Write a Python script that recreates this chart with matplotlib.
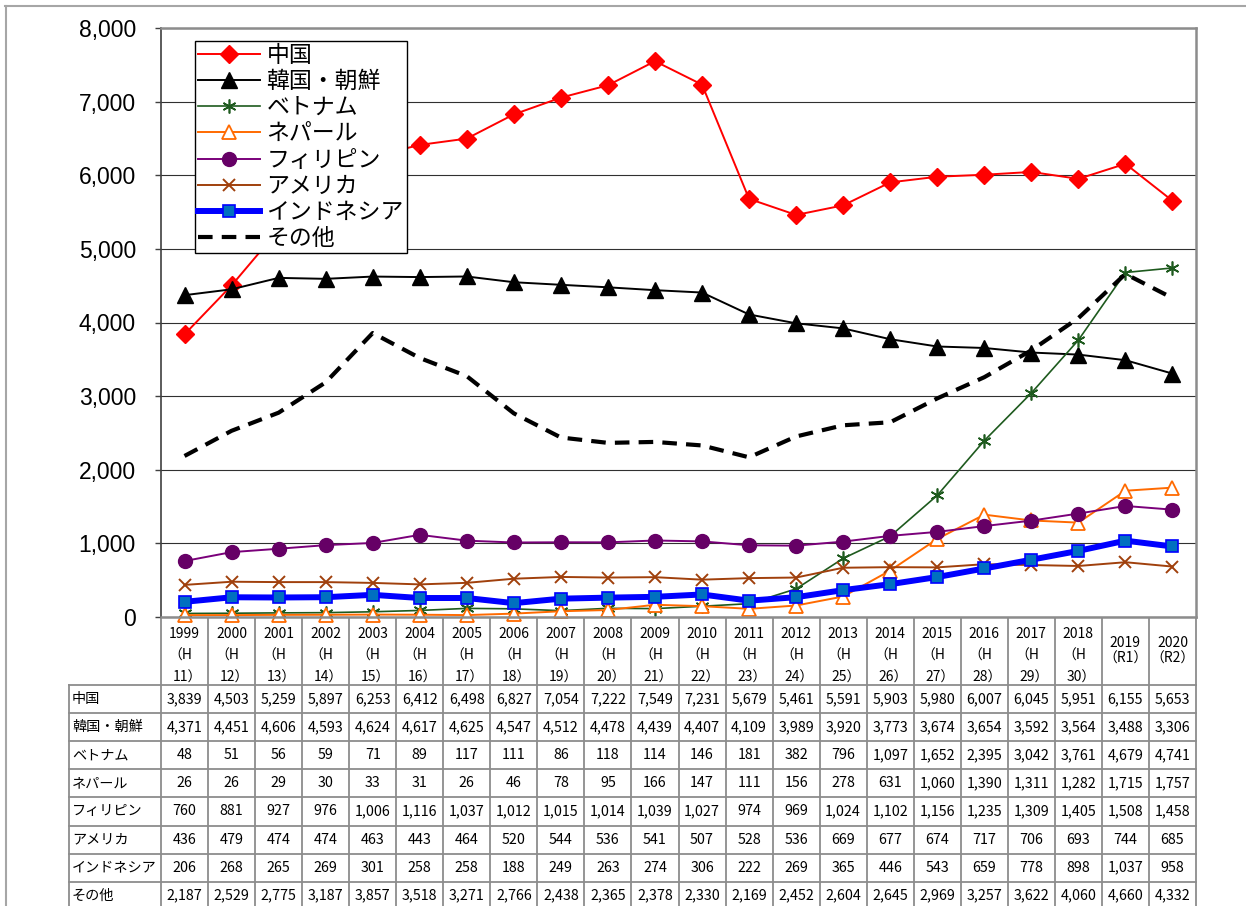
import numpy as np
import matplotlib
matplotlib.use('Agg')
import matplotlib.pyplot as plt

plt.rcParams['font.family'] = ['Noto Sans CJK JP', 'DejaVu Sans']

years = ['1999', '2000', '2001', '2002', '2003', '2004', '2005', '2006', '2007', '2008', '2009',
         '2010', '2011', '2012', '2013', '2014', '2015', '2016', '2017', '2018', '2019', '2020']
eras = ['（H\n11）', '（H\n12）', '（H\n13）', '（H\n14）', '（H\n15）', '（H\n16）', '（H\n17）',
        '（H\n18）', '（H\n19）', '（H\n20）', '（H\n21）', '（H\n22）', '（H\n23）', '（H\n24）',
        '（H\n25）', '（H\n26）', '（H\n27）', '（H\n28）', '（H\n29）', '（H\n30）', '（R1）', '（R2）']

names = ['中国', '韓国・朝鮮', 'ベトナム', 'ネパール', 'フィリピン', 'アメリカ', 'インドネシア', 'その他']
china = [3839, 4503, 5259, 5897, 6253, 6412, 6498, 6827, 7054, 7222, 7549, 7231, 5679, 5461, 5591, 5903, 5980, 6007, 6045, 5951, 6155, 5653]
korea = [4371, 4451, 4606, 4593, 4624, 4617, 4625, 4547, 4512, 4478, 4439, 4407, 4109, 3989, 3920, 3773, 3674, 3654, 3592, 3564, 3488, 3306]
vietnam = [48, 51, 56, 59, 71, 89, 117, 111, 86, 118, 114, 146, 181, 382, 796, 1097, 1652, 2395, 3042, 3761, 4679, 4741]
nepal = [26, 26, 29, 30, 33, 31, 26, 46, 78, 95, 166, 147, 111, 156, 278, 631, 1060, 1390, 1311, 1282, 1715, 1757]
philippines = [760, 881, 927, 976, 1006, 1116, 1037, 1012, 1015, 1014, 1039, 1027, 974, 969, 1024, 1102, 1156, 1235, 1309, 1405, 1508, 1458]
usa = [436, 479, 474, 474, 463, 443, 464, 520, 544, 536, 541, 507, 528, 536, 669, 677, 674, 717, 706, 693, 744, 685]
indonesia = [206, 268, 265, 269, 301, 258, 258, 188, 249, 263, 274, 306, 222, 269, 365, 446, 543, 659, 778, 898, 1037, 958]
other = [2187, 2529, 2775, 3187, 3857, 3518, 3271, 2766, 2438, 2365, 2378, 2330, 2169, 2452, 2604, 2645, 2969, 3257, 3622, 4060, 4660, 4332]
series = [china, korea, vietnam, nepal, philippines, usa, indonesia, other]

W, H = 1246, 906
fig = plt.figure(figsize=(W / 100, H / 100), dpi=100)

# pixel layout
px_l, px_r, px_t, px_b = 161, 1196, 28, 617
lab_l = 69
head_b = 685
row_h = 28.1

ov = fig.add_axes([0, 0, 1, 1], zorder=0)
ov.set_xlim(0, W)
ov.set_ylim(H, 0)
ov.axis('off')

ax = fig.add_axes([px_l / W, 1 - px_b / H, (px_r - px_l) / W, (px_b - px_t) / H], zorder=1)
x = np.arange(len(years))

styles = [
    dict(color='#FF0000', marker='D', ms=9, mfc='#FF0000', mec='#FF0000', lw=1.4),
    dict(color='#000000', marker='^', ms=11, mfc='#000000', mec='#000000', lw=1.4),
    dict(color='#1E5A1E', marker=(6, 2, 0), ms=10, mec='#1E5A1E', mew=1.2, lw=1.2),
    dict(color='#FF6A00', marker='^', ms=10, mfc='white', mec='#FF6A00', mew=1.3, lw=1.4),
    dict(color='#7A007A', marker='o', ms=10, mfc='#660066', mec='#660066', lw=1.4),
    dict(color='#A0400C', marker='x', ms=9, mec='#A0400C', mew=1.4, lw=1.4),
    dict(color='#0000FF', marker='s', ms=9, mfc='#0070C0', mec='#0000FF', mew=1.2, lw=4.3),
    dict(color='#000000', lw=3.0, dashes=(3.5, 2.2)),
]
for vals, name, st in zip(series, names, styles):
    ax.plot(x, vals, label=name, clip_on=False, **st)

ax.set_xlim(-0.5, len(years) - 0.5)
ax.set_ylim(0, 8000)
ax.set_yticks(np.arange(0, 8001, 1000))
ax.set_yticklabels([f'{v:,}' for v in range(0, 8001, 1000)], family='Liberation Sans', fontsize=16.5)
ax.tick_params(axis='y', length=4, width=1, color='#404040', pad=14)
ax.set_xticks([])
ax.grid(axis='y', color='#303030', lw=0.8)
ax.set_axisbelow(True)
for side in ['top', 'right', 'bottom']:
    ax.spines[side].set_color('#8C8C8C')
    ax.spines[side].set_linewidth(1.8)
ax.spines['left'].set_color('#404040')
ax.spines['left'].set_linewidth(1.2)

leg = ax.legend(loc='upper left', bbox_to_anchor=(195 / W, 1 - 41 / H), bbox_transform=fig.transFigure,
                borderaxespad=0, borderpad=0.12, labelspacing=0.14, handlelength=2.7, handletextpad=0.3,
                fancybox=False, framealpha=1, edgecolor='black', prop={'size': 16.5})
leg.get_frame().set_linewidth(1.0)
leg.set_zorder(5)

# outer frame
gc = '#A6A6A6'
ov.plot([5, W], [6, 6], color=gc, lw=1.5)
ov.plot([6, 6], [6, H], color=gc, lw=1.5)

# table
tc = '#8C8C8C'
colw = (px_r - px_l) / len(years)
nrows = len(names)
bottom = head_b + row_h * nrows
for i in range(len(years) + 1):
    xx = px_l + i * colw
    ov.plot([xx, xx], [px_b, bottom], color=tc, lw=1.3)
ov.plot([lab_l, lab_l], [head_b, bottom], color=tc, lw=1.3)
for r in range(nrows + 1):
    yy = head_b + r * row_h
    ov.plot([lab_l, px_r], [yy, yy], color=tc, lw=1.3)

for i, (yr, er) in enumerate(zip(years, eras)):
    cx = px_l + (i + 0.5) * colw
    if '\n' in er:
        top, bot = er.split('\n')
        ov.text(cx, 634, yr, ha='center', va='center', fontsize=10)
        # full-width brackets carry blank space on one side; nudge so glyphs look centred
        ov.text(cx - 4, 656, top, ha='center', va='center', fontsize=10)
        ov.text(cx + 3, 678, bot, ha='center', va='center', fontsize=10)
    else:
        ov.text(cx, 643, yr, ha='center', va='center', fontsize=10)
        ov.text(cx, 659, er, ha='center', va='center', fontsize=10)

for r, (name, vals) in enumerate(zip(names, series)):
    cy = head_b + (r + 0.5) * row_h
    ov.text(lab_l + 3, cy, name, ha='left', va='center', fontsize=10.2)
    for i, v in enumerate(vals):
        cx = px_l + (i + 0.5) * colw
        ov.text(cx, cy, f'{v:,}', ha='center', va='center', fontsize=10.3)

fig.savefig('out.png', dpi=100)
